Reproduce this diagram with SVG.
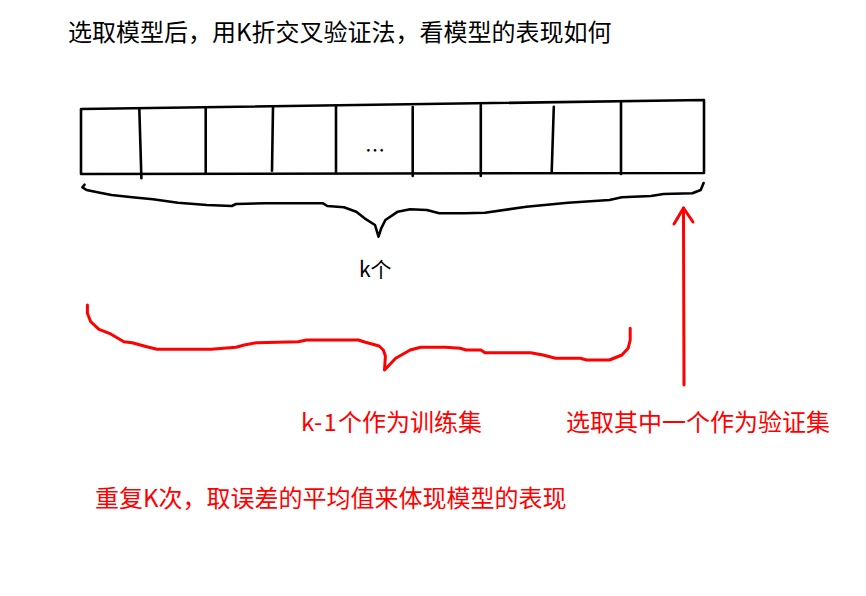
<svg xmlns="http://www.w3.org/2000/svg" width="866" height="596" viewBox="0 0 866 596">
<style>
  .blk{fill:none;stroke:#000;stroke-width:2.6;stroke-linecap:round;stroke-linejoin:round}
  .red{fill:none;stroke:#ff0000;stroke-width:3;stroke-linecap:round;stroke-linejoin:round}
  .t{font-family:"Noto Sans CJK SC","Noto Sans",sans-serif}
  .tb{fill:#000}
  .tr{fill:#ff0000;font-size:24px}
</style>
<rect width="866" height="596" fill="#fff"/>
<g id="title"><text class="t tb" x="68" y="41" font-size="24">选取模型后，用K折交叉验证法，看模型的表现如何</text></g>
<g id="folds">
  <polyline class="blk" points="81,109 704,100 704,173 81,174 81,109"/>
  <line class="blk" x1="139.3" y1="108.3" x2="141.4" y2="178.3"/>
  <line class="blk" x1="205.7" y1="108" x2="205.7" y2="173"/>
  <line class="blk" x1="273" y1="107" x2="272" y2="170.7"/>
  <line class="blk" x1="336" y1="106.7" x2="336" y2="171.7"/>
  <line class="blk" x1="412.7" y1="107" x2="412.7" y2="176"/>
  <line class="blk" x1="480.8" y1="105" x2="480.8" y2="176"/>
  <line class="blk" x1="553.8" y1="106.7" x2="551.7" y2="172.3"/>
  <line class="blk" x1="621" y1="102.7" x2="621" y2="174"/>
  <text class="t tb" x="365" y="158" font-size="20">…</text>
</g>
<g id="brace-k">
  <polyline class="blk" points="84.5,184.7 82.4,187.3 86.6,190 94.9,191.7 111.5,195 132.2,197.3 153,199.3 177.9,202.7 206.9,205 231.8,206 236,204 265,203.3 323,203.3 327.3,206 343.9,207.3 356.3,211.7 364.6,218.3 375,225 378.5,236.7 381.2,228.3 385.4,220 397.8,211.7 410,209.3 426.8,210 439.3,213.3 464.2,213.3 485,212.7 526.4,206.7 568,202.7 609.4,200 621.9,197.3 651,196 663.4,194 692.4,193.3 700.7,190 703.6,183"/>
</g>
<g id="label-k"><text class="t tb" x="359" y="277" font-size="21">k个</text></g>
<g id="brace-train">
  <polyline class="red" points="87.4,305 87.4,313.3 90.7,321.7 99,329.3 109.4,333.3 123.9,341.7 132.2,342.7 146.8,346.7 157.1,349.3 211.1,349.3 236,347.3 244.3,345 256.7,342.7 298.2,341.7 306.5,340 358.4,340 364.6,342 379.1,346 383.3,350 385.4,356 384.5,370 395.7,358.3 410.2,350 420.6,347.3 445.5,347.3 460,348.3 466.3,350 480.8,350 485,352.7 530.6,352.7 543,355 555.5,358.3 580.4,358.3 586.6,360 609.4,360 621.9,355 628.1,348.3 630.2,340 630.2,328.3"/>
</g>
<g id="connectors">
  <line class="red" x1="684" y1="385" x2="683.5" y2="208"/>
  <polyline class="red" points="674,224 683.5,208 693,222"/>
</g>
<g id="label-train"><text class="t tr" x="301" y="431"><tspan letter-spacing="1">k-1</tspan><tspan x="338">个作为训练集</tspan></text></g>
<g id="label-val"><text class="t tr" x="566" y="431">选取其中一个作为验证集</text></g>
<g id="footer"><text class="t tr" x="95" y="507">重复K次，取误差的平均值来体现模型的表现</text></g>
</svg>
